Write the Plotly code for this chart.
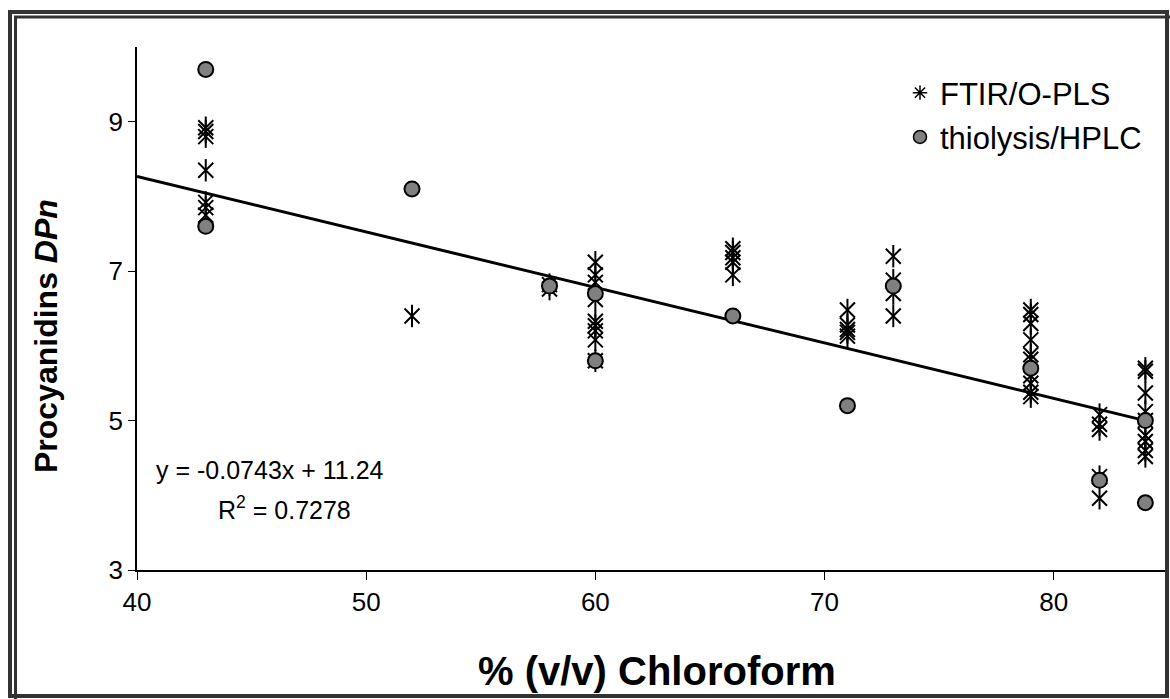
import plotly.graph_objects as go

# ---- data ----
ftir_chloroform = ([43] * 7 + [52] + [58] * 2 + [60] * 9 + [66] * 5 + [71] * 5 +
                   [73] * 4 + [79] * 10 + [82] * 5 + [84] * 9)
ftir_dpn = [8.92, 8.87, 8.80, 8.35, 7.92, 7.85, 7.75,
            6.40,
            6.82, 6.76,
            7.12, 6.95, 6.85, 6.62, 6.33, 6.27, 6.20, 6.08, 5.80,
            7.30, 7.25, 7.18, 7.12, 6.95,
            6.48, 6.28, 6.22, 6.18, 6.13,
            7.20, 6.88, 6.70, 6.40,
            6.48, 6.42, 6.30, 6.08, 5.88, 5.82, 5.60, 5.50, 5.38, 5.32,
            5.08, 4.95, 4.88, 4.25, 3.96,
            5.70, 5.66, 5.37, 5.12, 5.00, 4.80, 4.72, 4.60, 4.52]

hplc_chloroform = [43, 43, 52, 58, 60, 60, 66, 71, 73, 79, 82, 84, 84]
hplc_dpn = [9.7, 7.6, 8.1, 6.8, 6.7, 5.8, 6.4, 5.2, 6.8, 5.7, 4.2, 5.0, 3.9]

trend_slope = -0.0743
trend_intercept = 11.24
trend_r2 = 0.7278
trend_x = [40, 84]

x_ticks = [40, 50, 60, 70, 80]
y_ticks = [3, 5, 7, 9]

FONT = "Liberation Sans, Arial, sans-serif"

fig = go.Figure()

# trendline
fig.add_trace(go.Scatter(
    x=trend_x, y=[trend_slope * v + trend_intercept for v in trend_x],
    mode="lines", line=dict(color="black", width=3), showlegend=False,
    hoverinfo="skip"))

# FTIR asterisks: x + vertical bar
fig.add_trace(go.Scatter(
    x=ftir_chloroform, y=ftir_dpn, mode="markers",
    marker=dict(symbol="x-thin-open", size=15, color="black",
                line=dict(color="black", width=2)),
    showlegend=False, name="FTIR/O-PLS"))
fig.add_trace(go.Scatter(
    x=ftir_chloroform, y=ftir_dpn, mode="markers",
    marker=dict(symbol="line-ns-open", size=16, color="black",
                line=dict(color="black", width=2)),
    showlegend=False, name="FTIR/O-PLS"))

# HPLC circles
fig.add_trace(go.Scatter(
    x=hplc_chloroform, y=hplc_dpn, mode="markers",
    marker=dict(symbol="circle", size=15, color="#808080",
                line=dict(color="black", width=2)),
    showlegend=False, name="thiolysis/HPLC"))

# legend entries
fig.add_trace(go.Scatter(
    x=[None], y=[None], mode="markers", name="FTIR/O-PLS", legendgroup="a",
    marker=dict(symbol="asterisk-open", size=12, color="black",
                line=dict(color="black", width=1.5))))
fig.add_trace(go.Scatter(
    x=[None], y=[None], mode="markers", name="thiolysis/HPLC", legendgroup="b",
    marker=dict(symbol="circle", size=13, color="#808080",
                line=dict(color="black", width=1.5))))

L, R, T, B = 137, 1166, 47, 570
W, H = 1170, 699

def px(xp):
    return (xp - L) / (R - L)

def py(yp):
    return (B - yp) / (B - T)

fig.update_layout(
    width=W, height=H,
    margin=dict(l=L, r=W - R, t=T, b=H - B),
    paper_bgcolor="white", plot_bgcolor="white",
    font=dict(family=FONT, color="black", size=24),
    xaxis=dict(range=[40, 84.9], tickvals=x_ticks, showgrid=False, zeroline=False,
               showline=True, linecolor="black", linewidth=1.5,
               ticks="outside", ticklen=8, tickcolor="black",
               tickfont=dict(size=26, family=FONT)),
    yaxis=dict(range=[3, 10], tickvals=y_ticks, showgrid=False, zeroline=False,
               showline=True, linecolor="black", linewidth=1.5,
               ticks="outside", ticklen=7, tickcolor="black",
               tickfont=dict(size=26, family=FONT)),
    legend=dict(x=px(900), y=py(66), xanchor="left", yanchor="top",
                bgcolor="rgba(0,0,0,0)", font=dict(size=31, family=FONT),
                tracegroupgap=1, itemwidth=30),
    annotations=[
        dict(xref="paper", yref="paper", x=px(270), y=py(470), text="y = -0.0743x + 11.24",
             showarrow=False, font=dict(size=25, family=FONT), xanchor="center", yanchor="middle"),
        dict(xref="paper", yref="paper", x=px(284), y=py(508),
             text="R<sup>2</sup> = %.4f" % trend_r2,
             showarrow=False, font=dict(size=25, family=FONT), xanchor="center", yanchor="middle"),
        dict(xref="paper", yref="paper", x=px(657), y=py(671),
             text="<b>% (v/v) Chloroform</b>",
             showarrow=False, font=dict(size=40, family=FONT), xanchor="center", yanchor="middle"),
        dict(xref="paper", yref="paper", x=px(46), y=py(336), textangle=-90,
             text="<b>Procyanidins <i>DPn</i></b>",
             showarrow=False, font=dict(size=32, family=FONT), xanchor="center", yanchor="middle"),
    ],
    shapes=[
        dict(type="rect", xref="paper", yref="paper", x0=px(10), x1=px(1167),
             y0=py(12), y1=py(696), line=dict(color="#333333", width=4), layer="above"),
        dict(type="rect", xref="paper", yref="paper", x0=px(15.5), x1=px(1180),
             y0=py(17), y1=py(710), line=dict(color="#333333", width=3), layer="above"),
    ],
)

fig.write_html("out.html")
